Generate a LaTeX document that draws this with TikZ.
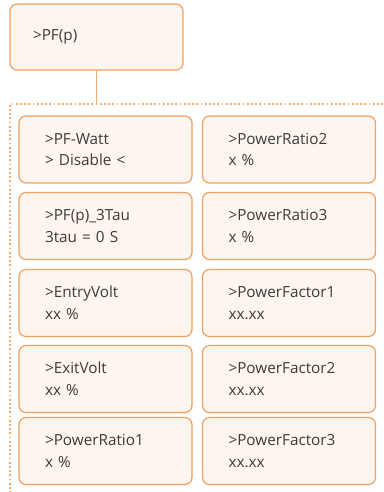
\documentclass[tikz,border=0pt]{standalone}
\usepackage{fontspec}
\setmainfont{Open Sans}
\usetikzlibrary{positioning}

\begin{document}
\begin{tikzpicture}[x=1pt, y=-1pt, line cap=round]

    % --- Definitions ---
    \definecolor{boxedge}{RGB}{240, 160, 95}
    \definecolor{boxfill}{RGB}{253, 245, 238}
    \definecolor{boxtext}{RGB}{60, 60, 60}
    \definecolor{frameline}{RGB}{245, 170, 110}

    \tikzset{
        menubox/.style={draw=boxedge, fill=boxfill, line width=1.2pt,
            rounded corners=7pt, minimum height=67pt, text width=121pt,
            inner xsep=26pt, align=left, text=boxtext, font=\fontsize{15.3}{21.5}\selectfont},
        topbox/.style={menubox, minimum height=66pt, text width=127pt, inner xsep=23pt},
        link/.style={draw=frameline, line width=1.2pt}
    }

    \useasboundingbox (0,0) rectangle (383,492);

    % --- Dotted frame ---
    \draw[frameline, line width=1.6pt, dash pattern=on 1.8pt off 2.4pt, line cap=butt]
        (383,104) -- (10,104) -- (10,492);

    % --- Top menu ---
    \node[topbox] (pf) at (96.5,37) {>PF(p)};
    \coordinate (frametop) at (96.5,104);
    \draw[link] (pf.south) -- (frametop);

    % --- Left column ---
    \node[menubox] (pfwatt) at (105.5,149.5) {>PF-Watt\\> Disable <};
    \node[menubox] (tau)    at (105.5,226)   {>PF(p)\_3Tau\\3tau = 0 S};
    \node[menubox] (entry)  at (105.5,303)   {>EntryVolt\\xx \%};
    \node[menubox] (exit)   at (105.5,379)   {>ExitVolt\\xx \%};
    \node[menubox] (ratio1) at (105.5,451)   {>PowerRatio1\\x \%};

    % --- Right column ---
    \node[menubox] (ratio2) at (289,149.5) {>PowerRatio2\\x \%};
    \node[menubox] (ratio3) at (289,226)   {>PowerRatio3\\x \%};
    \node[menubox] (factor1) at (289,303)  {>PowerFactor1\\xx.xx};
    \node[menubox] (factor2) at (289,379)  {>PowerFactor2\\xx.xx};
    \node[menubox] (factor3) at (289,451)  {>PowerFactor3\\xx.xx};

\end{tikzpicture}
\end{document}
